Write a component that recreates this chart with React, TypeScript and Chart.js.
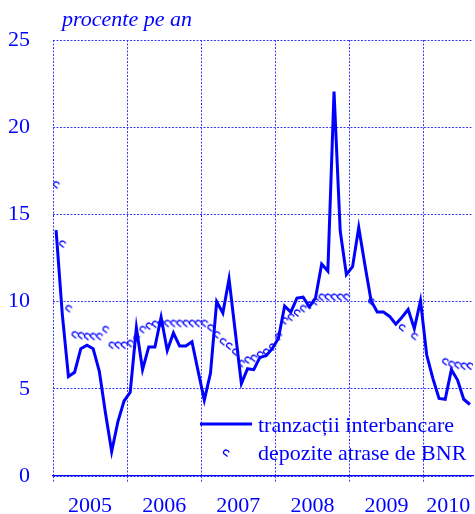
import React, { useEffect, useRef } from 'react';
import { Chart, registerables } from 'chart.js';

Chart.register(...registerables);

// Years (x-axis labels) and their label positions in months from Jan 2005
const years = ['2005', '2006', '2007', '2008', '2009', '2010'];
const yearLabelMonths = [6, 18, 30, 42, 54, 64];
const yearBoundaryMonths = [0, 12, 24, 36, 48, 60];
const yTickStep = 5;
const yMin = 0;
const yMax = 25;
const monthsTotal = 68; // Jan 2005 .. Aug 2010

// Monthly values, Jan 2005 .. Aug 2010 (percent per year)
const interbancare = [
  // 2005
  14.1, 9.3, 5.7, 5.95, 7.3, 7.5, 7.3, 6.0, 3.6, 1.4, 3.1, 4.3,
  // 2006
  4.8, 8.5, 6.1, 7.4, 7.4, 9.1, 7.2, 8.2, 7.45, 7.45, 7.7, 6.0,
  // 2007
  4.35, 5.9, 10.0, 9.35, 11.3, 8.3, 5.3, 6.15, 6.1, 6.8, 6.9, 7.3,
  // 2008
  7.9, 9.75, 9.4, 10.2, 10.25, 9.7, 10.2, 12.15, 11.75, 22.05, 14.05, 11.55,
  // 2009
  12.0, 14.25, 12.1, 10.05, 9.4, 9.4, 9.15, 8.7, 9.1, 9.55, 8.45, 10.05,
  // 2010
  6.95, 5.6, 4.45, 4.4, 6.1, 5.5, 4.4, 4.1,
];

const depozite: (number | null)[] = [
  // 2005
  16.7, 13.3, 9.6, 8.1, 8.05, 8.0, 8.0, 8.0, 8.4, 7.5, 7.5, 7.5,
  // 2006
  7.6, 7.9, 8.4, 8.6, 8.7, 8.75, 8.75, 8.75, 8.75, 8.75, 8.75, 8.75,
  // 2007
  8.75, 8.5, 8.1, 7.7, 7.45, 7.1, 6.45, 6.65, 6.75, 6.95, 7.1, 7.4,
  // 2008
  8.0, 8.9, 9.1, 9.35, 9.6, 9.8, 10.0, 10.25, 10.25, 10.25, 10.25, 10.25,
  // 2009
  null, null, null, 10.0, null, null, null, null, 8.5, null, 8.0, null,
  // 2010
  null, null, null, 6.55, 6.4, 6.35, 6.3, 6.3,
];

const seriesNames = ['tranzacții interbancare', 'depozite atrase de BNR'];
const unitLabel = 'procente pe an';

const BLUE = '#0000ff';
const GRID = '#3a3aff';
const FONT = '"Liberation Serif", "Times New Roman", serif';
const FS = 22;

function drawGlyph(ctx: CanvasRenderingContext2D, cx: number, cy: number) {
  ctx.save();
  ctx.strokeStyle = BLUE;
  ctx.lineWidth = 1.3;
  ctx.lineJoin = 'round';
  ctx.beginPath();
  ctx.moveTo(cx + 1.5, cy + 3.5);
  ctx.lineTo(cx - 2.5, cy + 0.3);
  ctx.quadraticCurveTo(cx - 2.8, cy - 3, cx + 0.5, cy - 3);
  ctx.lineTo(cx + 2.5, cy - 2);
  ctx.lineTo(cx + 3.2, cy - 0.5);
  ctx.stroke();
  ctx.restore();
}

function makeGlyphCanvas(): HTMLCanvasElement {
  const c = document.createElement('canvas');
  c.width = 10;
  c.height = 10;
  const g = c.getContext('2d')!;
  drawGlyph(g, 5, 5);
  return c;
}

const overlayPlugin = {
  id: 'overlayText',
  afterDraw(chart: any) {
    const ctx: CanvasRenderingContext2D = chart.ctx;
    ctx.save();
    ctx.fillStyle = BLUE;
    ctx.textBaseline = 'alphabetic';
    ctx.textAlign = 'left';
    ctx.font = 'italic ' + FS + 'px ' + FONT;
    ctx.fillText(unitLabel, 62, 26);

    // legend
    ctx.strokeStyle = BLUE;
    ctx.lineWidth = 3;
    ctx.beginPath();
    ctx.moveTo(200, 424);
    ctx.lineTo(252, 424);
    ctx.stroke();
    ctx.font = FS + 'px ' + FONT;
    ctx.fillText(seriesNames[0], 258, 432);
    drawGlyph(ctx, 226, 453);
    ctx.fillText(seriesNames[1], 258, 460);
    ctx.restore();
  },
};

export default function App() {
  const ref = useRef<HTMLCanvasElement>(null);

  useEffect(() => {
    if (!ref.current) return;
    const glyph = makeGlyphCanvas();
    const labelMap: Record<number, string> = {};
    yearLabelMonths.forEach((m, i) => (labelMap[m] = years[i]));
    const xTickValues = [...yearBoundaryMonths, ...yearLabelMonths].sort((a, b) => a - b);

    const lineData = interbancare.map((v, i) => ({ x: i + 0.5, y: v }));
    const depData = depozite
      .map((v, i) => ({ x: i + 0.5, y: v }))
      .filter((p) => p.y !== null);

    const chart = new Chart(ref.current, {
      type: 'scatter',
      data: {
        datasets: [
          {
            label: seriesNames[0],
            data: lineData,
            showLine: true,
            borderColor: BLUE,
            backgroundColor: BLUE,
            borderWidth: 3,
            pointRadius: 0,
            tension: 0,
          },
          {
            label: seriesNames[1],
            data: depData as any,
            showLine: false,
            pointStyle: glyph as any,
            pointRadius: 5,
            borderColor: BLUE,
            backgroundColor: BLUE,
          },
        ],
      },
      options: {
        animation: false,
        responsive: false,
        layout: { autoPadding: false, padding: { left: 0, right: 2, top: 40, bottom: 0 } },
        plugins: {
          legend: { display: false },
          tooltip: { enabled: false },
          title: { display: false },
        },
        scales: {
          x: {
            type: 'linear',
            min: 0,
            max: monthsTotal,
            afterFit: (s: any) => {
              s.height = 38;
              s.paddingLeft = 0;
              s.paddingRight = 0;
            },
            afterBuildTicks: (s: any) => {
              s.ticks = xTickValues.map((v) => ({ value: v }));
            },
            grid: {
              color: (c: any) =>
                c.tick && c.tick.value % 12 === 0 ? GRID : 'rgba(0,0,0,0)',
              tickColor: (c: any) =>
                c.tick && c.tick.value % 12 === 0 ? GRID : 'rgba(0,0,0,0)',
              lineWidth: 1,
              drawTicks: true,
              tickLength: 6,
              borderDash: [2, 1.5],
              tickBorderDash: [2, 1.5],
            } as any,
            border: { display: true, color: BLUE, width: 1.2, dash: [2, 1.5] } as any,
            ticks: {
              autoSkip: false,
              maxRotation: 0,
              padding: 11,
              color: BLUE,
              font: { family: FONT, size: FS },
              callback: (v: any) => labelMap[v as number] || '',
            },
          },
          y: {
            type: 'linear',
            min: yMin,
            max: yMax,
            afterFit: (s: any) => {
              s.width = 53;
              s.paddingTop = 0;
              s.paddingBottom = 0;
            },
            grid: {
              color: GRID,
              lineWidth: 1,
              drawTicks: false,
              borderDash: [2, 1.5],
            } as any,
            border: { display: false, dash: [2, 1.5] } as any,
            ticks: {
              stepSize: yTickStep,
              padding: 23,
              color: BLUE,
              font: { family: FONT, size: FS },
            },
          },
        },
      },
      plugins: [overlayPlugin],
    });
    return () => chart.destroy();
  }, []);

  return (
    <div style={{ position: 'fixed', left: 0, top: 0, width: 475, height: 514, background: '#fff' }}>
      <canvas ref={ref} width={475} height={514} style={{ display: 'block' }} />
    </div>
  );
}
